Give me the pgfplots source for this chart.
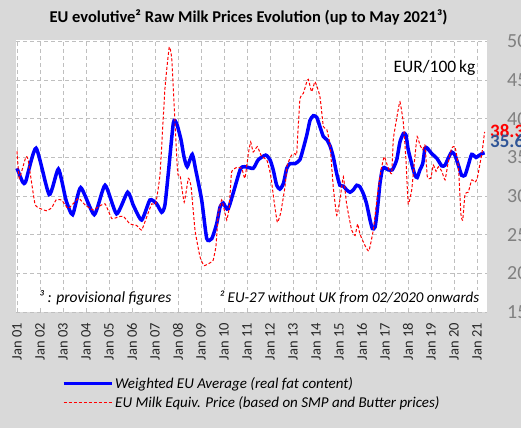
\documentclass[border=0pt]{standalone}
\usepackage{pgfplots}
\pgfplotsset{compat=1.18}
\usepackage{fontspec}
\setmainfont{Carlito}
\definecolor{bggray}{HTML}{D9D9D9}
\definecolor{gridgray}{HTML}{BFBFBF}
\definecolor{ticklab}{HTML}{808080}
\definecolor{labblue}{HTML}{2F5597}
\definecolor{xlab}{HTML}{262626}
\begin{document}
\begin{tikzpicture}[x=1pt,y=1pt]
\fill[bggray] (0,0) rectangle (521,428);
\node[font=\fontsize{16.5}{19}\selectfont\bfseries] at (248.5,411) {EU evolutive² Raw Milk Prices Evolution (up to May 2021³)};
\begin{axis}[
  at={(16pt,116pt)}, anchor=south west,
  scale only axis, width=471pt, height=272pt,
  xmin=2000.957, xmax=2021.435, ymin=15, ymax=50.2,
  axis background/.style={fill=white},
  axis line style={draw=none},
  major tick length=0pt,
  tick style={draw=none},
  grid=major,
  major grid style={draw=gridgray, line width=0.9pt, dash pattern=on 4pt off 3pt},
  xtick={2001,...,2021},
  xticklabels={Jan 01,Jan 02,Jan 03,Jan 04,Jan 05,Jan 06,Jan 07,Jan 08,Jan 09,Jan 10,Jan 11,Jan 12,Jan 13,Jan 14,Jan 15,Jan 16,Jan 17,Jan 18,Jan 19,Jan 20,Jan 21},
  xticklabel style={rotate=90, anchor=east, inner sep=0pt, xshift=-11pt, text=xlab, font=\fontsize{14.5}{17}\selectfont},
  ytick={15,20,...,50},
  yticklabel pos=right,
  yticklabel style={anchor=west, inner sep=0pt, xshift=20pt, text=ticklab, font=\fontsize{20}{24}\selectfont},
  /pgf/number format/assume math mode=true,
  clip=false,
  legend style={at={(0.0977,-0.232)}, anchor=north west, draw=none, fill=none, inner sep=0pt,
    font=\fontsize{15}{18}\selectfont\itshape, row sep=3pt,
    /tikz/every even column/.style={column sep=6pt}},
  legend cell align=left,
]
\addplot[blue, line width=3.5pt, smooth, tension=0.35,
  legend image code/.code={\draw[blue, line width=3pt] (0pt,0pt) -- (48pt,0pt);}]
  table {
2001.00 33.6
2001.25 31.8
2001.38 31.9
2001.83 36.2
2002.40 30.2
2002.80 33.5
2003.13 29.5
2003.42 27.6
2003.77 31.1
2004.36 27.6
2004.83 31.4
2005.33 27.7
2005.81 30.5
2006.06 28.8
2006.42 26.9
2006.78 29.5
2007.07 29.0
2007.29 27.9
2007.43 28.8
2007.58 33.0
2007.80 39.5
2007.94 39.4
2008.13 37.3
2008.26 35.1
2008.40 33.8
2008.62 35.4
2008.77 33.4
2009.03 29.5
2009.25 24.5
2009.47 24.5
2009.68 26.4
2009.83 28.6
2009.97 29.1
2010.19 28.4
2010.70 33.4
2010.91 33.8
2011.27 33.6
2011.49 34.7
2011.81 35.3
2012.00 34.7
2012.14 33.4
2012.29 31.4
2012.43 30.9
2012.58 31.6
2012.73 33.6
2012.87 34.2
2013.09 34.2
2013.30 34.7
2013.45 36.2
2013.60 37.9
2013.74 39.8
2013.88 40.4
2014.03 40.2
2014.17 39.0
2014.32 37.7
2014.47 37.3
2014.61 36.5
2014.75 35.1
2014.90 32.9
2015.04 31.4
2015.19 31.3
2015.33 30.8
2015.48 30.5
2015.62 30.8
2015.77 31.4
2015.91 31.2
2016.06 30.3
2016.20 29.0
2016.35 26.9
2016.45 25.8
2016.57 26.0
2016.68 28.6
2016.78 31.6
2016.88 33.4
2016.97 33.7
2017.14 33.4
2017.32 33.4
2017.51 34.7
2017.65 37.0
2017.80 38.1
2017.91 37.9
2018.01 36.0
2018.16 34.2
2018.30 32.7
2018.40 32.4
2018.52 33.4
2018.64 34.2
2018.74 36.2
2018.84 36.2
2019.03 35.5
2019.25 34.9
2019.47 33.9
2019.61 34.0
2019.75 34.9
2019.90 35.7
2020.04 35.3
2020.19 34.0
2020.33 32.7
2020.48 32.7
2020.62 34.0
2020.77 35.4
2020.96 35.0
2021.06 35.2
2021.22 35.5
2021.33 35.6
};
\addlegendentry{Weighted EU Average (real fat content)}
\addplot[red, line width=1pt, dash pattern=on 3pt off 2pt, smooth, tension=0.25,
  legend image code/.code={\draw[red, line width=1pt, dash pattern=on 3pt off 2pt] (0pt,0pt) -- (48pt,0pt);}]
  table {
2001.00 35.8
2001.10 32.3
2001.39 35.1
2001.49 34.6
2001.78 29.0
2002.00 28.4
2002.29 28.1
2002.51 28.5
2002.70 29.5
2002.94 29.5
2003.23 28.4
2003.67 29.7
2003.98 28.8
2004.32 28.2
2004.53 28.6
2004.83 29.0
2005.12 27.1
2005.40 27.3
2005.62 27.4
2005.91 26.4
2006.20 26.2
2006.42 25.6
2006.64 27.3
2006.86 29.0
2007.03 29.0
2007.22 32.9
2007.43 43.8
2007.62 49.3
2007.73 47.7
2007.87 39.4
2007.99 32.9
2008.09 32.7
2008.27 29.2
2008.45 32.3
2008.57 31.2
2008.74 25.6
2008.96 22.1
2009.14 21.0
2009.47 21.5
2009.53 21.7
2009.65 23.5
2009.75 27.7
2009.90 29.5
2010.00 28.4
2010.12 26.9
2010.23 28.6
2010.33 33.1
2010.55 33.7
2010.77 33.6
2010.91 32.3
2011.06 35.5
2011.16 37.0
2011.27 35.7
2011.45 36.4
2011.64 35.1
2011.86 34.7
2012.03 32.7
2012.17 29.5
2012.32 26.6
2012.47 27.9
2012.65 31.2
2012.75 34.0
2012.94 35.3
2013.09 35.5
2013.16 35.5
2013.30 42.5
2013.45 43.3
2013.60 44.8
2013.67 45.1
2013.81 43.5
2013.96 44.8
2014.17 42.9
2014.32 39.0
2014.47 38.6
2014.61 36.6
2014.75 31.2
2014.90 27.5
2015.04 29.5
2015.19 32.5
2015.33 29.0
2015.55 25.6
2015.70 24.9
2015.81 26.4
2015.91 25.1
2016.13 23.6
2016.30 22.9
2016.49 25.6
2016.68 30.3
2016.83 33.4
2016.97 35.1
2017.12 33.8
2017.29 32.9
2017.36 37.3
2017.51 40.1
2017.65 42.2
2017.80 39.4
2017.91 34.7
2018.01 29.0
2018.16 30.8
2018.30 35.1
2018.40 37.7
2018.52 36.6
2018.64 36.0
2018.74 36.6
2018.84 32.5
2018.99 32.3
2019.10 34.0
2019.22 33.2
2019.32 33.8
2019.47 33.2
2019.61 32.1
2019.75 34.4
2019.90 36.2
2020.04 36.4
2020.19 33.8
2020.30 27.7
2020.38 26.9
2020.48 30.3
2020.62 30.5
2020.77 32.1
2020.91 31.8
2021.01 32.3
2021.22 35.7
2021.33 38.3
};
\addlegendentry{EU Milk Equiv. Price (based on SMP and Butter prices)}
\node[anchor=west, inner sep=0pt, text=red, font=\fontsize{19}{22}\selectfont\bfseries, xshift=3pt, yshift=1pt] at (axis cs:2021.435,38.3) {38.3};
\node[anchor=west, inner sep=0pt, text=labblue, font=\fontsize{19}{22}\selectfont\bfseries, xshift=3pt, yshift=12pt] at (axis cs:2021.435,35.6) {35.6};
\node[anchor=north east, fill=white, inner sep=2pt, font=\fontsize{17.5}{20}\selectfont] at (rel axis cs:0.98,0.935) {EUR/100\,kg};
\node[anchor=west, fill=white, inner sep=1pt, font=\fontsize{15.5}{18}\selectfont\itshape] at (axis cs:2001.9,16.8) {³ : provisional figures};
\node[anchor=east, fill=white, inner sep=1pt, font=\fontsize{15}{18}\selectfont\itshape] at (axis cs:2021.15,16.8) {² EU-27 without UK from 02/2020 onwards};
\end{axis}
\pgfresetboundingbox
\useasboundingbox (0,0) rectangle (521,428);
\end{tikzpicture}
\end{document}
